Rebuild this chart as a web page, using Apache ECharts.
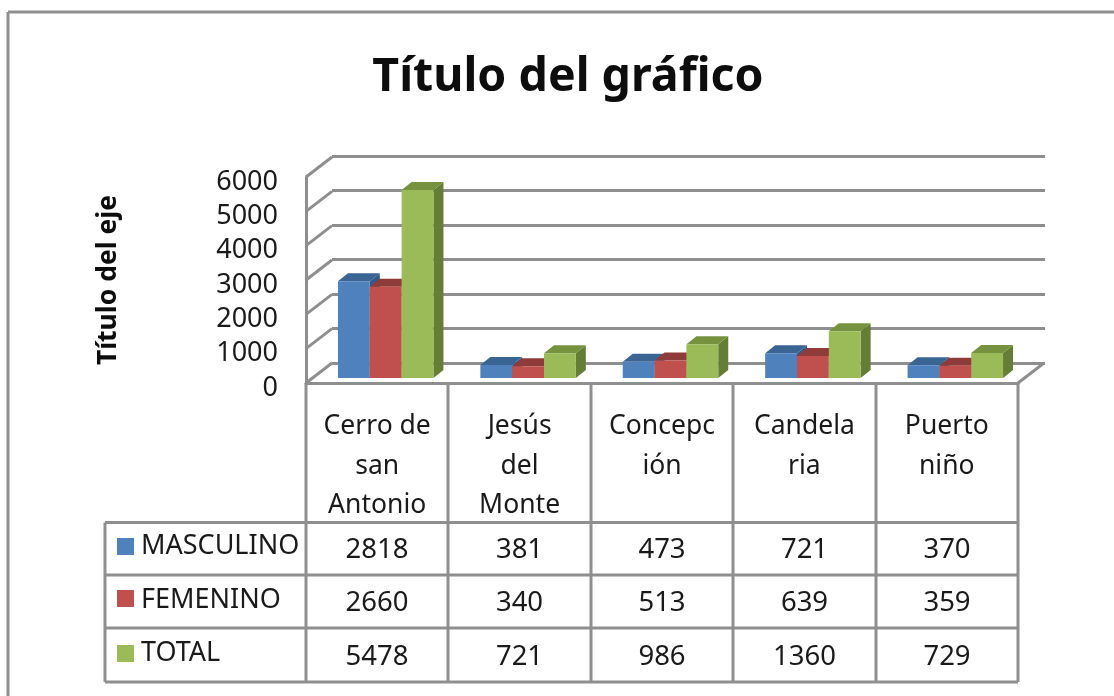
<!DOCTYPE html>
<html>
<head>
<meta charset="utf-8">
<script src="https://cdn.jsdelivr.net/npm/echarts@6/dist/echarts.min.js"></script>
<style>
  html, body { margin: 0; background: #fff; }
  #chart { width: 1114px; height: 696px; }
</style>
</head>
<body>
<div id="chart"></div>
<script>
const categories = ['Cerro de\nsan\nAntonio', 'Jesús\ndel\nMonte', 'Concepc\nión', 'Candela\nria', 'Puerto\nniño']
const seriesNames = ['MASCULINO', 'FEMENINO', 'TOTAL']
const masculino = [2818, 381, 473, 721, 370]
const femenino = [2660, 340, 513, 639, 359]
const total = [5478, 721, 986, 1360, 729]
const yTicks = [0, 1000, 2000, 3000, 4000, 5000, 6000]

const FONT = '"Noto Sans", sans-serif'
const LINE = '#8f8f8f'
const TEXT = '#1a1a1a'
const faces = [
  { front: '#4f81bd', top: '#3a6491', side: '#355a85' },
  { front: '#c0504d', top: '#8f3b39', side: '#843634' },
  { front: '#9bbb59', top: '#76923f', side: '#657e36' }
]

// 伪 3D 的纵深
const WALL_DX = 26
const WALL_DY = -20
const BAR_DX = 10
const BAR_DY = -8
const PLANE_DX = 8.5
const PLANE_DY = -5

const chart = echarts.init(document.getElementById('chart'))

function barSeries(name, values, index) {
  const face = faces[index]
  return {
    name,
    type: 'custom',
    xAxisIndex: 0,
    yAxisIndex: 0,
    z: 5,
    data: values.map((v, i) => [i, v]),
    renderItem(params, api) {
      const top = api.coord([api.value(0), api.value(1)])
      const base = api.coord([api.value(0), 0])
      const w = api.size([1, 0])[0] * 0.2235
      const x0 = top[0] + PLANE_DX + (index - 1.5) * w
      const x1 = x0 + w
      const y0 = top[1] + PLANE_DY
      const y1 = base[1] + PLANE_DY
      return {
        type: 'group',
        children: [
          { type: 'polygon', shape: { points: [[x1, y0], [x1 + BAR_DX, y0 + BAR_DY], [x1 + BAR_DX, y1 + BAR_DY], [x1, y1]] }, style: { fill: face.side } },
          { type: 'polygon', shape: { points: [[x0, y0], [x0 + BAR_DX, y0 + BAR_DY], [x1 + BAR_DX, y0 + BAR_DY], [x1, y0]] }, style: { fill: face.top } },
          { type: 'rect', shape: { x: x0, y: y0, width: w, height: y1 - y0 }, style: { fill: face.front } }
        ]
      }
    }
  }
}

// 左侧墙的斜线，外加地板右边那一条
const wallSeries = {
  type: 'custom',
  xAxisIndex: 0,
  yAxisIndex: 0,
  z: 2,
  silent: true,
  data: yTicks.map((t) => [0, t]),
  renderItem(params, api) {
    const p = api.coord([0, api.value(1)])
    const left = params.coordSys.x
    const right = left + params.coordSys.width
    const style = { stroke: LINE, lineWidth: 3, fill: null }
    const children = [
      { type: 'line', shape: { x1: left, y1: p[1], x2: left + WALL_DX, y2: p[1] + WALL_DY }, style }
    ]
    if (api.value(1) === 0) {
      children.push({ type: 'line', shape: { x1: right, y1: p[1], x2: right + WALL_DX, y2: p[1] + WALL_DY }, style })
    }
    return { type: 'group', children }
  }
}

const rows = [masculino, femenino, total]
const tableLeft = 105
const plotRight = 1018
const plotBottom = 383
const rowLines = [522.5, 575, 628, 682]
const colLines = [306, 448, 591, 733, 876, 1018]
const rowText = [550, 603, 657]
const legendText = [546, 600, 653]
const swatchTop = [538, 590, 645]

function hline(x1, x2, y) {
  return { type: 'line', shape: { x1, y1: y, x2, y2: y }, style: { stroke: LINE, lineWidth: 3 }, z: 1 }
}
function vline(x, y1, y2) {
  return { type: 'line', shape: { x1: x, y1, x2: x, y2 }, style: { stroke: LINE, lineWidth: 3 }, z: 1 }
}

const tableGraphics = [
  // el marco sale por la derecha y por abajo de la captura
  hline(8, 1114, 12),
  vline(8, 12, 696),
  hline(tableLeft, plotRight, rowLines[0]),
  hline(tableLeft, plotRight, rowLines[1]),
  hline(tableLeft, plotRight, rowLines[2]),
  hline(tableLeft, plotRight, rowLines[3]),
  vline(tableLeft, rowLines[0], rowLines[3])
]
colLines.forEach((x) => {
  tableGraphics.push(vline(x, plotBottom, rowLines[3]))
})
rows.forEach((vals, r) => {
  tableGraphics.push({ type: 'rect', shape: { x: 117, y: swatchTop[r], width: 17, height: 17 }, style: { fill: faces[r].front } })
  tableGraphics.push({ type: 'text', x: 141, y: legendText[r], style: { text: seriesNames[r], font: '27px ' + FONT, fill: TEXT, textVerticalAlign: 'middle' } })
  vals.forEach((v, c) => {
    tableGraphics.push({
      type: 'text',
      x: (colLines[c] + colLines[c + 1]) / 2,
      y: rowText[r],
      style: { text: String(v), font: '27.5px ' + FONT, fill: TEXT, textAlign: 'center', textVerticalAlign: 'middle' }
    })
  })
})

chart.setOption({
  animation: false,
  backgroundColor: '#fff',
  title: {
    text: 'Título del gráfico',
    left: 563,
    top: 49,
    textAlign: 'center',
    textStyle: { fontFamily: FONT, fontWeight: 'bold', fontSize: 46.5, color: '#0d0d0d' }
  },
  grid: [
    { left: 306, top: 177, width: 712, height: 206 },
    { left: 332, top: 156, width: 713, height: 207 }
  ],
  xAxis: [
    {
      type: 'category',
      gridIndex: 0,
      data: categories,
      axisLine: { show: true, lineStyle: { color: LINE, width: 3 } },
      axisTick: { show: false },
      axisLabel: {
        interval: 0,
        margin: 24,
        verticalAlign: 'top',
        lineHeight: 39.5,
        fontFamily: FONT,
        fontSize: 26.5,
        color: TEXT
      }
    },
    {
      type: 'category',
      gridIndex: 1,
      data: categories,
      axisLine: { show: false },
      axisTick: { show: false },
      axisLabel: { show: false }
    }
  ],
  yAxis: [
    {
      type: 'value',
      gridIndex: 0,
      min: 0,
      max: 6000,
      interval: 1000,
      name: 'Título del eje',
      nameLocation: 'middle',
      nameRotate: 90,
      nameGap: 184,
      nameTextStyle: { fontFamily: FONT, fontWeight: 'bold', fontSize: 26.5, color: '#0d0d0d' },
      axisLine: { show: true, lineStyle: { color: LINE, width: 3 } },
      axisTick: { show: false },
      splitLine: { show: false },
      axisLabel: {
        margin: 28,
        formatter: (v) => String(v),
        verticalAlign: 'top',
        lineHeight: 10,
        fontFamily: FONT,
        fontSize: 27,
        color: TEXT
      }
    },
    {
      type: 'value',
      gridIndex: 1,
      min: 0,
      max: 6000,
      interval: 1000,
      axisLine: { show: false },
      axisTick: { show: false },
      axisLabel: { show: false },
      splitLine: { show: true, lineStyle: { color: LINE, width: 3 } }
    }
  ],
  graphic: tableGraphics,
  series: [
    wallSeries,
    barSeries(seriesNames[0], masculino, 0),
    barSeries(seriesNames[1], femenino, 1),
    barSeries(seriesNames[2], total, 2)
  ]
})
</script>
</body>
</html>
